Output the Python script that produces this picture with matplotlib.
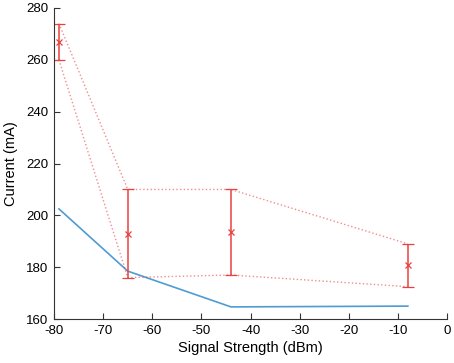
import matplotlib
matplotlib.use("Agg")
import matplotlib.pyplot as plt

plt.rcParams['font.family'] = ['Liberation Sans', 'DejaVu Sans']
plt.rcParams['axes.unicode_minus'] = False

# measured points (signal strength, current)
sig = [-79, -65, -44, -8]
mean_cur = [267, 193, 193.5, 181]
upper_cur = [274, 210, 210, 189]
lower_cur = [260, 176, 177, 172.5]

# model curve
model_sig = [-79, -65, -44, -8]
model_cur = [202.5, 178.5, 164.7, 165]

red = '#e8413f'
blue = '#4f9bd2'

fig = plt.figure(figsize=(4.54, 3.63), dpi=100)
ax = fig.add_axes([0.119, 0.121, 0.866, 0.857])

ax.plot(model_sig, model_cur, color=blue, lw=1.2)

yerr = [[m - l for m, l in zip(mean_cur, lower_cur)],
        [u - m for m, u in zip(mean_cur, upper_cur)]]
ax.errorbar(sig, mean_cur, yerr=yerr, fmt='x', color=red, ms=4.5, mew=0.9,
            elinewidth=1.1, capsize=4, capthick=1.0)
ax.plot(sig, upper_cur, ':', color=red, alpha=0.6, lw=1.0)
ax.plot(sig, lower_cur, ':', color=red, alpha=0.6, lw=1.0)

ax.set_xlim(-80, 0)
ax.set_ylim(160, 280)
ax.set_xticks(range(-80, 1, 10))
ax.set_yticks(range(160, 281, 20))
ax.spines['top'].set_visible(False)
ax.spines['right'].set_visible(False)
for s in ('left', 'bottom'):
    ax.spines[s].set_color('#333333')
    ax.spines[s].set_linewidth(0.8)
ax.tick_params(direction='in', length=4, width=0.8, labelsize=9.5, colors='#333333',
               labelcolor='black', pad=4)
ax.set_xlabel('Signal Strength (dBm)', fontsize=10.5, labelpad=3)
ax.set_ylabel('Current (mA)', fontsize=10.5, labelpad=6)

fig.savefig('out.png', dpi=100)
